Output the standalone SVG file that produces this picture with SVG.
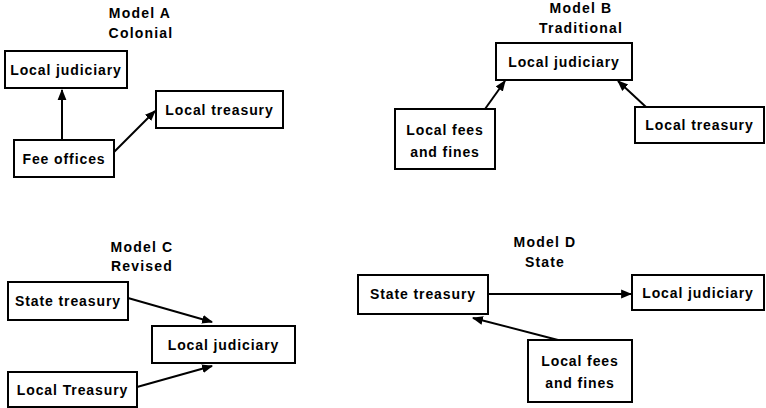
<svg xmlns="http://www.w3.org/2000/svg" width="766" height="408" viewBox="0 0 766 408">
<defs>
<style>
.box{fill:#fff;stroke:#000;stroke-width:2}
.t{font-family:"Liberation Sans",Arial,sans-serif;font-size:14px;font-weight:bold;text-anchor:middle;fill:#000;letter-spacing:0.9px}
.h{font-family:"Liberation Sans",Arial,sans-serif;font-size:14px;font-weight:bold;text-anchor:middle;fill:#000;letter-spacing:1.2px}
.c{stroke:#000;stroke-width:2;fill:none;marker-end:url(#ah)}
</style>
<marker id="ah" viewBox="0 0 10 10" refX="9" refY="5" markerWidth="5.5" markerHeight="5.5" orient="auto" markerUnits="strokeWidth">
<path d="M0,1 L10,5 L0,9 z" fill="#000"/>
</marker>
</defs>
<rect width="766" height="408" fill="#fff"/>
<g id="titles">
<text class="h" x="140" y="18">Model A</text>
<text class="h" x="141" y="38">Colonial</text>
<text class="h" x="581" y="13">Model B</text>
<text class="h" x="581" y="33">Traditional</text>
<text class="h" x="142" y="252">Model C</text>
<text class="h" x="142" y="271">Revised</text>
<text class="h" x="545" y="247">Model D</text>
<text class="h" x="545" y="267">State</text>
</g>
<g id="connectors">
<line class="c" x1="62" y1="140" x2="62" y2="90"/>
<line class="c" x1="114" y1="152" x2="155" y2="111"/>
<line class="c" x1="485" y1="109" x2="505" y2="81"/>
<line class="c" x1="646" y1="107" x2="618" y2="81"/>
<line class="c" x1="128" y1="298" x2="212" y2="322"/>
<line class="c" x1="137" y1="387" x2="212" y2="366"/>
<line class="c" x1="488" y1="294" x2="631" y2="294"/>
<line class="c" x1="558" y1="340" x2="473" y2="318"/>
</g>
<g id="a-judiciary"><rect class="box" x="5" y="51" width="122" height="37"/><text class="t" x="66" y="75">Local judiciary</text></g>
<g id="a-treasury"><rect class="box" x="156" y="91" width="127" height="37"/><text class="t" x="219.5" y="115">Local treasury</text></g>
<g id="a-fee"><rect class="box" x="14" y="140" width="100" height="37"/><text class="t" x="64" y="164">Fee offices</text></g>
<g id="b-judiciary"><rect class="box" x="496" y="43" width="136" height="37"/><text class="t" x="564" y="67">Local judiciary</text></g>
<g id="b-fees"><rect class="box" x="395" y="109" width="100" height="60"/><text class="t" x="445" y="135">Local fees</text><text class="t" x="445" y="157">and fines</text></g>
<g id="b-treasury"><rect class="box" x="635" y="107" width="129" height="36"/><text class="t" x="699.5" y="130">Local treasury</text></g>
<g id="c-state"><rect class="box" x="8" y="282" width="120" height="38"/><text class="t" x="68" y="306">State treasury</text></g>
<g id="c-judiciary"><rect class="box" x="152" y="326" width="143" height="37"/><text class="t" x="223.5" y="350">Local judiciary</text></g>
<g id="c-local"><rect class="box" x="8" y="372" width="129" height="35"/><text class="t" x="72.5" y="395">Local Treasury</text></g>
<g id="d-state"><rect class="box" x="358" y="275" width="130" height="39"/><text class="t" x="423" y="299">State treasury</text></g>
<g id="d-judiciary"><rect class="box" x="632" y="275" width="132" height="35"/><text class="t" x="698" y="298">Local judiciary</text></g>
<g id="d-fees"><rect class="box" x="528" y="340" width="104" height="62"/><text class="t" x="580" y="366">Local fees</text><text class="t" x="580" y="388">and fines</text></g>
</svg>
